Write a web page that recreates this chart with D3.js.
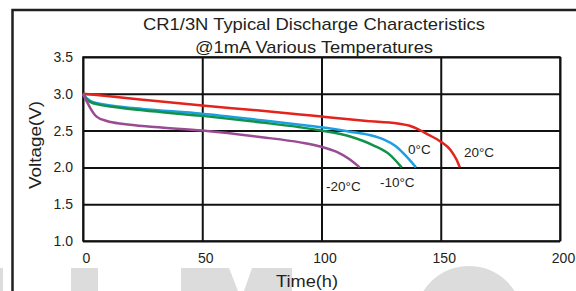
<!DOCTYPE html>
<html>
<head>
<meta charset="utf-8">
<script src="https://cdn.jsdelivr.net/npm/d3@7"></script>
<style>
  html, body { margin: 0; padding: 0; background: #fff; }
  svg { display: block; font-family: "Liberation Sans", Arial, sans-serif; }
</style>
</head>
<body>
<svg id="chart" width="576" height="291"></svg>
<script>
// ---- data ----
const xTicks = [0, 50, 100, 150, 200];
const yTicks = [1.0, 1.5, 2.0, 2.5, 3.0, 3.5];
const seriesNames = ["20°C", "0°C", "-10°C", "-20°C"];
const seriesColors = ["#e3231c", "#1b9fe2", "#10924a", "#9a4b94"];
const red20 = [[0,3.0],[10,2.97],[25,2.92],[50,2.84],[75,2.77],[91,2.72],[100,2.69],[119,2.63],[132,2.595],[137,2.565],[141,2.51],[144.5,2.45],[150,2.35],[154,2.24],[156.7,2.10],[158,2.0]];
const blue0 = [[0,3.0],[1.5,2.94],[3,2.905],[7,2.865],[13,2.835],[25,2.795],[50,2.73],[75,2.64],[91,2.58],[100,2.545],[112,2.485],[120,2.44],[126,2.38],[131,2.29],[135.7,2.145],[139.6,2.0]];
const green10 = [[0,3.0],[1.5,2.93],[3,2.89],[7,2.85],[13,2.82],[25,2.775],[50,2.70],[75,2.61],[91,2.545],[100,2.50],[112,2.42],[121.7,2.30],[128.7,2.17],[133.6,2.0]];
const purple20 = [[0,3.0],[1,2.93],[2,2.87],[3,2.81],[5.7,2.69],[10,2.63],[17,2.59],[30,2.55],[50,2.50],[75,2.41],[91,2.34],[100,2.28],[106.4,2.21],[111.3,2.12],[116,2.0]];
const seriesData = [red20, blue0, green10, purple20];
const labelPos = [[159.7,2.14],[136.3,2.18],[124.5,1.73],[101.9,1.68]];

(function () {
// ---- layout ----
const svg = d3.select("#chart");
const pL = 83, pR = 560, pT = 57, pB = 241;
const x = d3.scaleLinear().domain([0, 200]).range([pL, pR]);
const y = d3.scaleLinear().domain([1.0, 3.5]).range([pB, pT]);

// watermark shapes
const wm = svg.append("g").attr("fill", "#dcdcdc");
wm.append("rect").attr("x", 0).attr("y", 268).attr("width", 3).attr("height", 23);
wm.append("rect").attr("x", 71).attr("y", 268).attr("width", 27).attr("height", 23);
wm.append("path").attr("d", "M181,268 L229,268 L238,291 L181,291 Z");
wm.append("path").attr("d", "M252,268 L292,268 L292,291 L244,291 Z");
wm.append("circle").attr("cx", 469).attr("cy", 320).attr("r", 54);

// outer frame
svg.append("path").attr("d", "M12.5,291 L12.5,10 L576,10")
  .attr("fill", "none").attr("stroke", "#231f20").attr("stroke-width", 2.5);

// title
const title = svg.append("text").attr("text-anchor", "middle").attr("fill", "#231f20").attr("font-size", 17);
title.append("tspan").attr("x", 314).attr("y", 30).attr("textLength", 342).attr("lengthAdjust", "spacingAndGlyphs")
  .text("CR1/3N Typical Discharge Characteristics");
title.append("tspan").attr("x", 314).attr("y", 53).attr("textLength", 238).attr("lengthAdjust", "spacingAndGlyphs")
  .text("@1mA Various Temperatures");

// grid + axes
const gx = svg.append("g").attr("transform", `translate(0,${pB})`)
  .call(d3.axisBottom(x).tickValues(xTicks).tickFormat(d3.format("d")).tickSizeInner(-(pB - pT)).tickSizeOuter(0).tickPadding(12));
gx.select(".domain").remove();
gx.selectAll(".tick line").attr("stroke", "#111").attr("stroke-width", 2);
gx.selectAll(".tick text").attr("font-size", 14).attr("fill", "#231f20").attr("dx", 3)
  .attr("font-family", "Liberation Sans, Arial, sans-serif");

const gy = svg.append("g").attr("transform", `translate(${pL},0)`)
  .call(d3.axisLeft(y).tickValues(yTicks).tickFormat(d3.format(".1f")).tickSizeInner(-(pR - pL)).tickSizeOuter(0).tickPadding(10));
gy.select(".domain").remove();
gy.selectAll(".tick line").attr("stroke", "#111").attr("stroke-width", 2);
gy.selectAll(".tick text").attr("font-size", 14).attr("fill", "#231f20")
  .attr("font-family", "Liberation Sans, Arial, sans-serif");

svg.append("rect").attr("x", pL).attr("y", pT).attr("width", pR - pL).attr("height", pB - pT)
  .attr("fill", "none").attr("stroke", "#111").attr("stroke-width", 1.5);

// axis titles
svg.append("text").attr("transform", `translate(41,145) rotate(-90)`).attr("text-anchor", "middle")
  .attr("font-size", 16).attr("textLength", 88).attr("lengthAdjust", "spacingAndGlyphs")
  .attr("fill", "#231f20").text("Voltage(V)");
svg.append("text").attr("x", 307).attr("y", 287).attr("text-anchor", "middle")
  .attr("font-size", 16).attr("textLength", 62).attr("lengthAdjust", "spacingAndGlyphs")
  .attr("fill", "#231f20").text("Time(h)");

// curves
const line = d3.line().x(d => x(d[0])).y(d => y(d[1])).curve(d3.curveMonotoneX);
seriesData.forEach((s, i) => {
  svg.append("path").datum(s).attr("d", line).attr("fill", "none")
    .attr("stroke", seriesColors[i]).attr("stroke-width", 2.5).attr("stroke-linecap", "butt");
});

// labels
seriesNames.forEach((n, i) => {
  svg.append("text").attr("x", x(labelPos[i][0])).attr("y", y(labelPos[i][1]))
    .attr("font-size", 13.5).attr("fill", "#231f20").text(n);
});
})();
</script>
</body>
</html>
